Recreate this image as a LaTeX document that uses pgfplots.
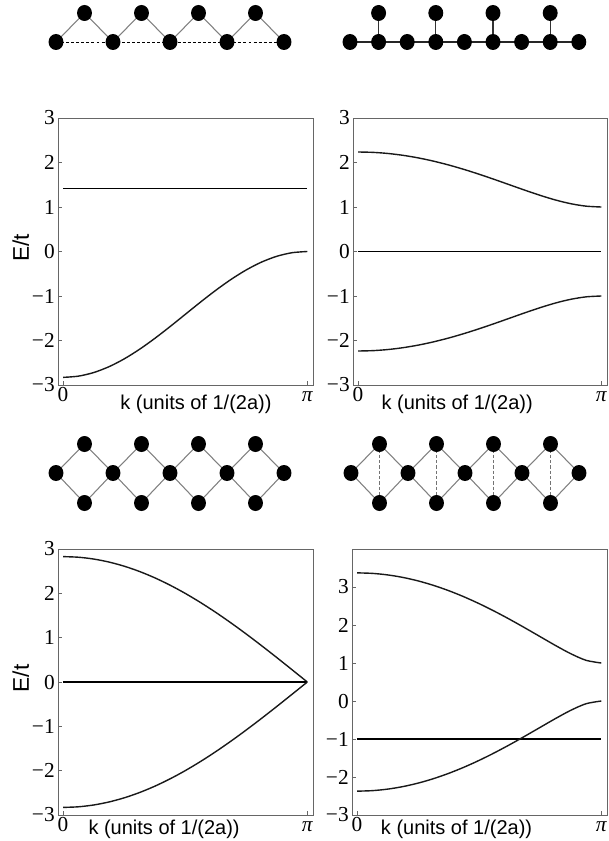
\documentclass[border=0pt]{standalone}
\usepackage{fontspec}
\setmainfont{Liberation Serif}
\newfontfamily\arial{Liberation Sans}
\usepackage{pgfplots}
\usepackage{pgfplotstable}
\pgfplotsset{compat=1.18}

% band energies E/t against k
\pgfplotstableread{
k      lo
0.0000 -2.8284
0.1963 -2.8013
0.3927 -2.7208
0.5890 -2.5901
0.7854 -2.4142
0.9817 -2.1999
1.1781 -1.9554
1.3744 -1.6901
1.5708 -1.4142
1.7671 -1.1383
1.9635 -0.8730
2.1598 -0.6285
2.3562 -0.4142
2.5525 -0.2383
2.7489 -0.1077
2.9452 -0.0272
3.1416  0.0000
}\sawtooth

\pgfplotstableread{
k      up     dn
0.0000 2.2361 -2.2361
0.1963 2.2275 -2.2275
0.3927 2.2018 -2.2018
0.5890 2.1594 -2.1594
0.7854 2.1010 -2.1010
0.9817 2.0276 -2.0276
1.1781 1.9405 -1.9405
1.3744 1.8412 -1.8412
1.5708 1.7321 -1.7321
1.7671 1.6155 -1.6155
1.9635 1.4949 -1.4949
2.1598 1.3744 -1.3744
2.3562 1.2593 -1.2593
2.5525 1.1563 -1.1563
2.7489 1.0734 -1.0734
2.9452 1.0190 -1.0190
3.1416 1.0000 -1.0000
}\stub

\pgfplotstableread{
k      up     dn
0.0000 2.8284 -2.8284
0.1963 2.8148 -2.8148
0.3927 2.7741 -2.7741
0.5890 2.7066 -2.7066
0.7854 2.6131 -2.6131
0.9817 2.4944 -2.4944
1.1781 2.3517 -2.3517
1.3744 2.1864 -2.1864
1.5708 2.0000 -2.0000
1.7671 1.7943 -1.7943
1.9635 1.5714 -1.5714
2.1598 1.3333 -1.3333
2.3562 1.0824 -1.0824
2.5525 0.8210 -0.8210
2.7489 0.5518 -0.5518
2.9452 0.2772 -0.2772
3.1416 0.0000  0.0000
}\diamond

\pgfplotstableread{
k      up     dn
0.0000 3.3723 -2.3723
0.1963 3.3589 -2.3589
0.3927 3.3188 -2.3188
0.5890 3.2525 -2.2525
0.7854 3.1606 -2.1606
0.9817 3.0441 -2.0441
1.1781 2.9043 -1.9043
1.3744 2.7429 -1.7429
1.5708 2.5616 -1.5616
1.7671 2.3627 -1.3627
1.9635 2.1490 -1.1490
2.1598 1.9240 -0.9240
2.3562 1.6923 -0.6923
2.5525 1.4613 -0.4613
2.7489 1.2446 -0.2446
2.9452 1.0717 -0.0717
3.1416 1.0000  0.0000
}\diamondx

\pgfplotsset{
  band/.style={
    scale only axis, width=191.25pt, height=200.25pt, anchor=south west,
    xmin=-0.065, xmax=3.215, ymin=-3, ymax=3,
    axis line style={black!60, line width=0.6pt},
    tick style={black!60, line width=0.6pt},
    tick align=inside, major tick length=3pt, tick pos=left,
    ytick={-3,...,3}, yticklabels={−3,−2,−1,0,1,2,3},
    xtick={0,3.1416}, xticklabels={0,{\itshape π}},
    ticklabel style={font=\fontsize{16}{16}\selectfont},
    yticklabel style={inner sep=0pt, xshift=-2.3pt},
    xticklabel style={inner sep=0pt, text height=10.8pt, text depth=0pt, yshift=-1.5pt},
    xlabel={k (units of 1/(2a))},
    xlabel style={font=\arial\fontsize{15}{15}\selectfont, anchor=base, yshift=-18pt},
  },
  ylab/.style={
    ylabel={E/t},
    ylabel style={font=\arial\fontsize{17}{17}\selectfont,
      at={(axis description cs:0,0.513)}, anchor=center, yshift=28pt},
  },
  curve/.style={black!90, no marks, smooth, line width=1.05pt},
  flat/.style={black, no marks, line width=1.3pt},
}
\newcommand\site[2]{\fill (#1,#2) ellipse [x radius=5.6pt, y radius=6pt];}

\begin{document}
\begin{tikzpicture}
\useasboundingbox (0,0) rectangle (456pt,-630.75pt);

% lattice sketches, in pixel units from the top left corner
\begin{scope}[x=0.75pt, y=-0.75pt]
  % sawtooth
  \draw[black, line width=0.6pt, dash pattern=on 2.2pt off 1.6pt] (56,42) -- (284,42);
  \draw[black!50, line width=0.8pt] (56,42) -- (84.5,13) -- (113,42) -- (141.5,13) -- (170,42)
    -- (198.5,13) -- (227,42) -- (255.5,13) -- (284,42);
  \foreach \x in {56,113,170,227,284} {\site{\x}{42}}
  \foreach \x in {84.5,141.5,198.5,255.5} {\site{\x}{13}}
  % stub chain
  \draw[black!85, line width=0.8pt] (350,42) -- (578.8,42);
  \foreach \x in {378.6,435.8,493,550.2} {\draw[black!80, line width=0.8pt] (\x,42) -- (\x,13); \site{\x}{13}}
  \foreach \x in {350,378.6,407.2,435.8,464.4,493,521.6,550.2,578.8} {\site{\x}{42}}
  % diamond chain
  \draw[black!50, line width=0.8pt] (56,473) -- (84.5,444) -- (113,473) -- (141.5,444) -- (170,473)
    -- (198.5,444) -- (227,473) -- (255.5,444) -- (284,473);
  \draw[black!50, line width=0.8pt] (56,473) -- (84.5,503) -- (113,473) -- (141.5,503) -- (170,473)
    -- (198.5,503) -- (227,473) -- (255.5,503) -- (284,473);
  \foreach \x in {56,113,170,227,284} {\site{\x}{473}}
  \foreach \x in {84.5,141.5,198.5,255.5} {\site{\x}{444}\site{\x}{503}}
  % diamond chain with vertical bond
  \draw[black!50, line width=0.8pt] (351,473) -- (379.5,444) -- (408,473) -- (436.5,444) -- (465,473)
    -- (493.5,444) -- (522,473) -- (550.5,444) -- (579,473);
  \draw[black!50, line width=0.8pt] (351,473) -- (379.5,503) -- (408,473) -- (436.5,503) -- (465,473)
    -- (493.5,503) -- (522,473) -- (550.5,503) -- (579,473);
  \foreach \x in {379.5,436.5,493.5,550.5} {\draw[black!55, line width=0.8pt, dash pattern=on 2.5pt off 1.5pt] (\x,444) -- (\x,503);}
  \foreach \x in {351,408,465,522,579} {\site{\x}{473}}
  \foreach \x in {379.5,436.5,493.5,550.5} {\site{\x}{444}\site{\x}{503}}
\end{scope}

% top left: sawtooth
\begin{axis}[band, ylab, at={(43.5pt,-288.75pt)},
  xlabel style={at={(axis description cs:0.541,0)}}]
  \addplot[flat] coordinates {(0,1.4142) (3.1416,1.4142)};
  \addplot[curve] table[x=k, y=lo] {\sawtooth};
\end{axis}

% top right: stub chain
\begin{axis}[band, at={(264.75pt,-288.75pt)}, width=190.5pt,
  xlabel style={at={(axis description cs:0.41,0)}}]
  \addplot[curve] table[x=k, y=up] {\stub};
  \addplot[flat] coordinates {(0,0) (3.1416,0)};
  \addplot[curve] table[x=k, y=dn] {\stub};
\end{axis}

% bottom left: diamond chain
\begin{axis}[band, ylab, at={(43.5pt,-611.25pt)}, height=199.5pt,
  xlabel style={at={(axis description cs:0.416,0)}, yshift=3.5pt}]
  \addplot[curve] table[x=k, y=up] {\diamond};
  \addplot[flat] coordinates {(0,0) (3.1416,0)};
  \addplot[curve] table[x=k, y=dn] {\diamond};
\end{axis}

% bottom right: diamond chain with vertical bond
\begin{axis}[band, at={(264pt,-611.25pt)}, height=199.5pt, ymax=4,
  xlabel style={at={(axis description cs:0.41,0)}, yshift=3.5pt}]
  \addplot[curve] table[x=k, y=up] {\diamondx};
  \addplot[flat] coordinates {(0,-1) (3.1416,-1)};
  \addplot[curve] table[x=k, y=dn] {\diamondx};
\end{axis}
\end{tikzpicture}
\end{document}
